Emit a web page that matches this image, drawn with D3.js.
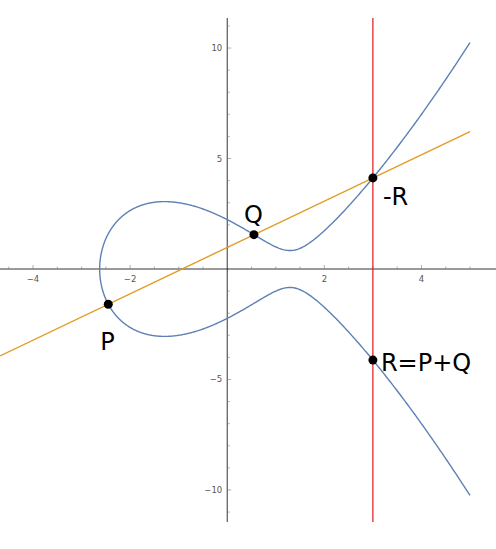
<!DOCTYPE html>
<html><head><meta charset="utf-8">
<script src="https://cdn.jsdelivr.net/npm/d3@7"></script>
<style>body{margin:0;background:#fff}</style>
</head><body>
<svg id="chart" width="496" height="549"></svg>
<script>
// curve y^2 = x^3 + a x + b
const curveA = -5
const curveB = 5
const xMax = 5
const pointXs = [-2.45, 0.55, 3]          // P, Q, -R
const pointLabels = ["P", "Q", "-R", "R=P+Q"]
const xTicksMajor = [-4, -2, 2, 4]
const yTicksMajor = [-10, -5, 5, 10]

const svg = d3.select("#chart")
const x = d3.scaleLinear().domain([-4.68, 5]).range([0, 470])
const y = d3.scaleLinear().domain([11.36, -11.45]).range([18, 522])

const f = v => v * v * v + curveA * v + curveB
const yOf = v => Math.sqrt(Math.max(0, f(v)))

// root of the cubic by bisection
let lo = -5, hi = 0
for (let i = 0; i < 60; i++) { const m = (lo + hi) / 2; (f(m) > 0) ? hi = m : lo = m }
const x0 = hi

const ts = d3.range(0, 1.0001, 0.002)
const upper = ts.map(t => x0 + (xMax - x0) * t * t).map(v => [v, yOf(v)])
const lower = upper.map(p => [p[0], -p[1]])
const curvePts = upper.slice().reverse().concat(lower.slice(1))

// axes
const gx = svg.append("g").attr("transform", `translate(0,${y(0)})`)
gx.append("line").attr("x1", 0).attr("x2", 496).attr("stroke", "#000").attr("stroke-width", 0.8)
const gy = svg.append("g").attr("transform", `translate(${x(0)},0)`)
gy.append("line").attr("y1", 18).attr("y2", 522).attr("stroke", "#000").attr("stroke-width", 0.8)

d3.range(-4.5, 5.01, 0.5).filter(v => Math.abs(v) > 1e-6).forEach(v => {
  const major = Number.isInteger(v / 2)
  gx.append("line").attr("x1", x(v)).attr("x2", x(v)).attr("y1", 0).attr("y2", major ? -4 : -2.5)
    .attr("stroke", "#777").attr("stroke-width", 0.6)
})
d3.range(-11, 11.01, 1).filter(v => v !== 0).forEach(v => {
  const major = v % 5 === 0
  gy.append("line").attr("y1", y(v)).attr("y2", y(v)).attr("x1", 0).attr("x2", major ? 4 : 2.5)
    .attr("stroke", "#777").attr("stroke-width", 0.6)
})
xTicksMajor.forEach(v => gx.append("text").attr("x", x(v)).attr("y", 13).attr("text-anchor", "middle")
  .attr("font-family", "DejaVu Sans").attr("font-size", 8.5).attr("fill", "#555").text(v < 0 ? "\u2212" + (-v) : v))
yTicksMajor.forEach(v => gy.append("text").attr("x", -5).attr("y", y(v) + 3).attr("text-anchor", "end")
  .attr("font-family", "DejaVu Sans").attr("font-size", 8.5).attr("fill", "#555").text(v < 0 ? "\u2212" + (-v) : v))

const line = d3.line().x(d => x(d[0])).y(d => y(d[1]))

// secant line through P and -R
const P = [pointXs[0], -yOf(pointXs[0])]
const Q = [pointXs[1], yOf(pointXs[1])]
const mR = [pointXs[2], yOf(pointXs[2])]
const R = [mR[0], -mR[1]]
const slope = (mR[1] - P[1]) / (mR[0] - P[0])
const lx = [-4.68, 5]
svg.append("path").attr("d", line(lx.map(v => [v, P[1] + slope * (v - P[0])])))
  .attr("fill", "none").attr("stroke", "#e19c24").attr("stroke-width", 1.4)

// vertical red line
svg.append("line").attr("x1", x(mR[0])).attr("x2", x(mR[0])).attr("y1", 18).attr("y2", 522)
  .attr("stroke", "#e4161c").attr("stroke-width", 1.2)

svg.append("path").attr("d", line(curvePts)).attr("fill", "none")
  .attr("stroke", "#5e81b5").attr("stroke-width", 1.4)

const pts = [P, Q, mR, R]
svg.selectAll("circle.pt").data(pts).join("circle").attr("class", "pt")
  .attr("cx", d => x(d[0])).attr("cy", d => y(d[1])).attr("r", 4.5).attr("fill", "#000")

const labelOff = [[-8, 46], [-10, -12], [10, 27], [8, 4]]
svg.selectAll("text.lbl").data(pts).join("text").attr("class", "lbl")
  .attr("x", (d, i) => x(d[0]) + labelOff[i][0]).attr("y", (d, i) => y(d[1]) + labelOff[i][1])
  .attr("font-family", "DejaVu Sans").attr("font-size", 24).attr("fill", "#000")
  .attr("dominant-baseline", (d, i) => i === 3 ? "middle" : "auto")
  .text((d, i) => pointLabels[i])
</script>
</body></html>
